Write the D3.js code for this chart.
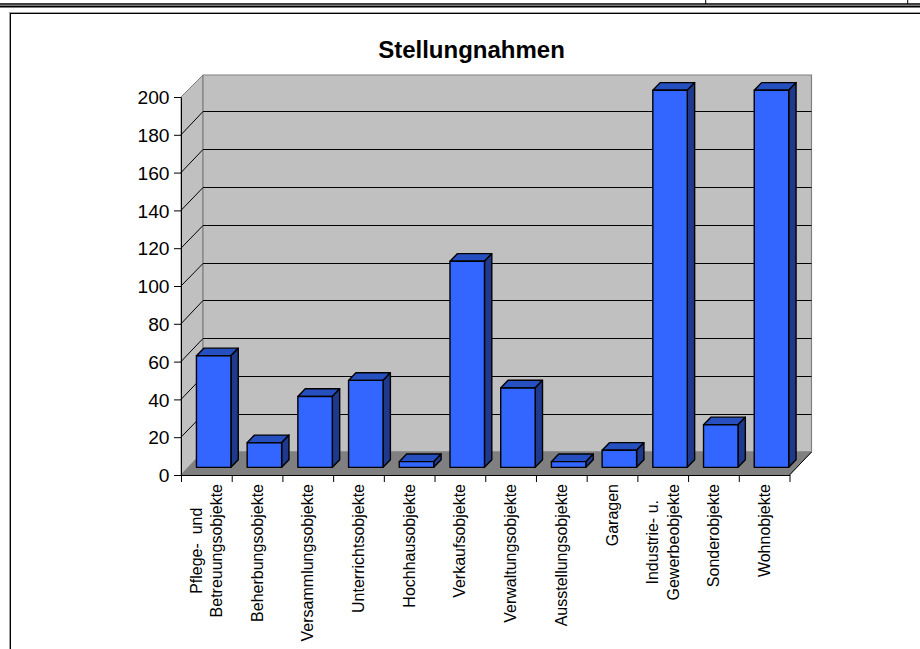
<!DOCTYPE html>
<html>
<head>
<meta charset="utf-8">
<script src="https://cdn.jsdelivr.net/npm/d3@7"></script>
<style>
    html, body { margin: 0; padding: 0; background: #fff; overflow: hidden; }
    text { font-family: "Liberation Sans", Arial, sans-serif; fill: #000; }
</style>
</head>
<body>
<div id="chart"></div>
<script>
let categories = [
    ["Pflege-  und", "Betreuungsobjekte"],
    ["Beherbungsobjekte"],
    ["Versammlungsobjekte"],
    ["Unterrichtsobjekte"],
    ["Hochhausobjekte"],
    ["Verkaufsobjekte"],
    ["Verwaltungsobjekte"],
    ["Ausstellungsobjekte"],
    ["Garagen"],
    ["Industrie- u.", "Gewerbeobjekte"],
    ["Sonderobjekte"],
    ["Wohnobjekte"]
];
let values = [59, 13, 37.5, 46, 3, 109, 42, 3, 9, 199.5, 22.5, 199.5];
let yTicks = [0, 20, 40, 60, 80, 100, 120, 140, 160, 180, 200];

let svgWidth = 920;
let svgHeight = 649;

// front edge of the 3d box
let plotLeft = 181, plotRight = 789.5, plotTop = 97, plotBottom = 475;
// how far the back wall is shifted from the front
let depthX = 22, depthY = 23;

let svg = d3.select("#chart").append("svg")
    .attr("width", svgWidth)
    .attr("height", svgHeight)
    .style("display", "block");

// page frame above the chart
let frame = svg.append("g").attr("fill", "none");
frame.append("line").attr("x1", 0).attr("x2", 920).attr("y1", 4).attr("y2", 4).attr("stroke", "#000").attr("stroke-width", 1.5);
frame.append("line").attr("x1", 0).attr("x2", 920).attr("y1", 6.6).attr("y2", 6.6).attr("stroke", "#000").attr("stroke-width", 2);
[705.7, 907.7].forEach(x => {
    frame.append("line").attr("x1", x).attr("x2", x).attr("y1", 0).attr("y2", 4).attr("stroke", "#000");
});
frame.append("line").attr("x1", 9).attr("x2", 920).attr("y1", 12.5).attr("y2", 12.5).attr("stroke", "#a0a0a0").attr("stroke-width", 1);
frame.append("line").attr("x1", 9).attr("x2", 920).attr("y1", 13.5).attr("y2", 13.5).attr("stroke", "#000").attr("stroke-width", 1);
frame.append("line").attr("x1", 9.5).attr("x2", 9.5).attr("y1", 12).attr("y2", 649).attr("stroke", "#a0a0a0").attr("stroke-width", 1);
frame.append("line").attr("x1", 10.5).attr("x2", 10.5).attr("y1", 13).attr("y2", 649).attr("stroke", "#000").attr("stroke-width", 1);

svg.append("text")
    .attr("x", 471.5)
    .attr("y", 57.5)
    .attr("text-anchor", "middle")
    .attr("font-size", "24px")
    .attr("font-weight", "bold")
    .text("Stellungnahmen");

// Scale functions
let xScale = d3.scaleBand()
    .domain(categories.map((d, i) => i))
    .range([plotLeft, plotRight])
    .paddingInner(0.32)
    .paddingOuter(0.16);

let yScale = d3.scaleLinear()
    .domain([0, 200])
    .range([plotBottom, plotTop]);

let toPath = pts => "M" + pts.map(p => p.join(",")).join("L") + "Z";

// Walls and floor
let walls = svg.append("g");
walls.append("path")
    .attr("d", toPath([[plotLeft, yScale(200)], [plotLeft + depthX, yScale(200) - depthY + 1], [plotLeft + depthX, yScale(0) - depthY], [plotLeft, yScale(0)]]))
    .attr("fill", "#c0c0c0").attr("stroke", "#808080");
walls.append("path")
    .attr("d", toPath([[plotLeft + depthX, yScale(200) - depthY + 1], [plotRight + depthX, yScale(200) - depthY + 1], [plotRight + depthX, yScale(0) - depthY], [plotLeft + depthX, yScale(0) - depthY]]))
    .attr("fill", "#c0c0c0").attr("stroke", "#808080").attr("stroke-width", 1.2);
walls.append("path")
    .attr("d", toPath([[plotLeft, yScale(0)], [plotLeft + depthX, yScale(0) - depthY], [plotRight + depthX, yScale(0) - depthY], [plotRight, yScale(0)]]))
    .attr("fill", "#808080").attr("stroke", "#808080");

// Gridlines along side wall and back wall
let backY = d => Math.floor(yScale(d) - depthY) + 0.5;
let grid = svg.append("g").attr("stroke", "#000").attr("fill", "none");
yTicks.filter(d => d > 0 && d < 200).forEach(d => {
    grid.append("path")
        .attr("d", `M${plotLeft},${yScale(d)}L${plotLeft + depthX},${backY(d)}L${plotRight + depthX},${backY(d)}`);
});
svg.append("path")
    .attr("d", `M${plotRight},${plotBottom}L${plotRight + depthX},${plotBottom - depthY}`)
    .attr("stroke", "#000").attr("fill", "none");

// Axes
let yAxis = d3.axisLeft(yScale).tickValues(yTicks).tickSize(7).tickSizeOuter(0).tickPadding(4.5);
let gy = svg.append("g").attr("transform", `translate(${plotLeft},0)`).call(yAxis);
gy.attr("font-family", null).attr("font-size", null);
gy.selectAll("text").attr("font-size", "19.2px").attr("dy", "0.35em");

let xAxis = d3.axisBottom(d3.scaleLinear().domain([0, categories.length]).range([plotLeft, plotRight]))
    .tickValues(d3.range(categories.length + 1))
    .tickSize(7)
    .tickSizeOuter(0)
    .tickFormat("");
svg.append("g").attr("transform", `translate(0,${plotBottom})`).call(xAxis);
svg.selectAll(".domain").attr("stroke", "#000").attr("stroke-width", 1);

// Category labels
let step = xScale.step();
let labels = svg.append("g").selectAll("g")
    .data(categories)
    .enter()
    .append("g")
    .attr("transform", (d, i) => `translate(${plotLeft + step * (i + 0.5)},484) rotate(-90)`);

labels.each(function(d) {
    let g = d3.select(this);
    // widest line sets the block, shorter lines are centred in it
    let t = g.selectAll("text").data(d).enter().append("text")
        .attr("font-size", "16px")
        .attr("text-anchor", "middle")
        .style("white-space", "pre")
        .attr("y", (l, j) => (j - (d.length - 1) / 2) * 20.7 + 5.5)
        .text(l => l);
    let widest = d3.max(t.nodes(), n => n.getComputedTextLength());
    t.attr("x", -widest / 2);
});

// Bars
let barDepth = depthX / 3;
let barDepthY = depthY / 3;
let bars = svg.append("g").selectAll("g")
    .data(values)
    .enter()
    .append("g")
    .attr("stroke", "#000")
    .attr("stroke-width", 1.4)
    .attr("stroke-linejoin", "round");

let bw = xScale.bandwidth();
let barX = (d, i) => xScale(i) + barDepth;
let barTop = d => yScale(d) - barDepthY;
let barBot = () => yScale(0) - barDepthY;

bars.append("path")
    .attr("fill", "#2650c0")
    .attr("d", (d, i) => toPath([
        [barX(d, i), barTop(d)],
        [barX(d, i) + barDepth, barTop(d) - barDepthY],
        [barX(d, i) + bw + barDepth, barTop(d) - barDepthY],
        [barX(d, i) + bw, barTop(d)]
    ]));
bars.append("path")
    .attr("fill", "#1f3a8c")
    .attr("d", (d, i) => toPath([
        [barX(d, i) + bw, barTop(d)],
        [barX(d, i) + bw + barDepth, barTop(d) - barDepthY],
        [barX(d, i) + bw + barDepth, barBot() - barDepthY],
        [barX(d, i) + bw, barBot()]
    ]));
bars.append("rect")
    .attr("fill", "#3366ff")
    .attr("x", (d, i) => barX(d, i))
    .attr("y", d => barTop(d))
    .attr("width", bw)
    .attr("height", d => barBot() - barTop(d));
</script>
</body>
</html>
